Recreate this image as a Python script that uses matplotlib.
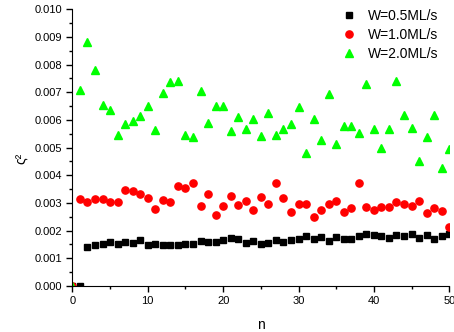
import numpy as np
import matplotlib
matplotlib.use('Agg')
import matplotlib.pyplot as plt
from matplotlib.ticker import MultipleLocator, FormatStrFormatter

plt.rcParams['font.family'] = ['Liberation Sans', 'DejaVu Sans']

# data (values in units of 1e-3)
n = np.arange(0, 51)
w05 = [0, 0, 1.42, 1.49, 1.53, 1.60, 1.53, 1.60, 1.56, 1.67, 1.47,
       1.53, 1.48, 1.47, 1.48, 1.53, 1.53, 1.62, 1.59, 1.59, 1.67,
       1.74, 1.71, 1.56, 1.62, 1.50, 1.54, 1.66, 1.60, 1.65, 1.69,
       1.82, 1.69, 1.77, 1.63, 1.78, 1.71, 1.70, 1.80, 1.89, 1.84,
       1.80, 1.74, 1.84, 1.80, 1.89, 1.74, 1.84, 1.71, 1.80, 1.89]
w10 = [0, 3.14, 3.04, 3.15, 3.15, 3.03, 3.03, 3.47, 3.45, 3.31, 3.18,
       2.77, 3.09, 3.02, 3.63, 3.53, 3.71, 2.88, 3.33, 2.55, 2.89,
       3.27, 2.94, 3.07, 2.75, 3.22, 2.96, 3.72, 3.19, 2.66, 2.96,
       2.95, 2.50, 2.74, 2.95, 3.08, 2.66, 2.82, 3.73, 2.84, 2.74,
       2.86, 2.85, 3.02, 2.95, 2.88, 3.06, 2.64, 2.82, 2.72, 2.14]
w20 = [0, 7.10, 8.82, 7.82, 6.53, 6.36, 5.45, 5.85, 5.98, 6.16, 6.52,
       5.64, 6.97, 7.38, 7.40, 5.45, 5.39, 7.06, 5.88, 6.50, 6.52,
       5.61, 6.11, 5.69, 6.02, 5.43, 6.26, 5.45, 5.66, 5.85, 6.46,
       4.81, 6.05, 5.26, 6.93, 5.13, 5.80, 5.78, 5.52, 7.30, 5.68,
       4.97, 5.68, 7.40, 6.18, 5.71, 4.51, 5.39, 6.18, 4.28, 4.96]
labels = ['W=0.5ML/s', 'W=1.0ML/s', 'W=2.0ML/s']

fig = plt.figure(figsize=(4.54, 3.32), dpi=100)
ax = fig.add_axes([0.1595, 0.1386, 0.830, 0.8334])

ax.plot(n, np.array(w05) * 1e-3, 's', color='black', ms=4.6, label=labels[0])
ax.plot(n, np.array(w10) * 1e-3, 'o', color='#ff0000', ms=5.2, label=labels[1])
ax.plot(n, np.array(w20) * 1e-3, '^', color='#00ff00', ms=5.8, label=labels[2])

ax.set_xlim(0, 50)
ax.set_ylim(0, 0.010)
ax.xaxis.set_major_locator(MultipleLocator(10))
ax.xaxis.set_minor_locator(MultipleLocator(5))
ax.yaxis.set_major_locator(MultipleLocator(0.001))
ax.yaxis.set_minor_locator(MultipleLocator(0.0005))
ax.yaxis.set_major_formatter(FormatStrFormatter('%.3f'))
ax.tick_params(which='major', direction='out', length=4, width=1, labelsize=8)
ax.tick_params(which='minor', direction='out', length=2.5, width=1)
ax.spines['top'].set_visible(False)
ax.spines['right'].set_visible(False)

ax.set_xlabel('n', fontsize=10, labelpad=8)
ax.set_ylabel('ς²', fontsize=10, labelpad=3)
ax.yaxis.set_label_coords(-0.115, 0.46)

ax.legend(loc='upper right', frameon=False, fontsize=10, handletextpad=0.7,
          labelspacing=0.35, borderaxespad=0.0, handlelength=1.2,
          bbox_to_anchor=(0.985, 1.02))

plt.savefig('out.png', dpi=100)
